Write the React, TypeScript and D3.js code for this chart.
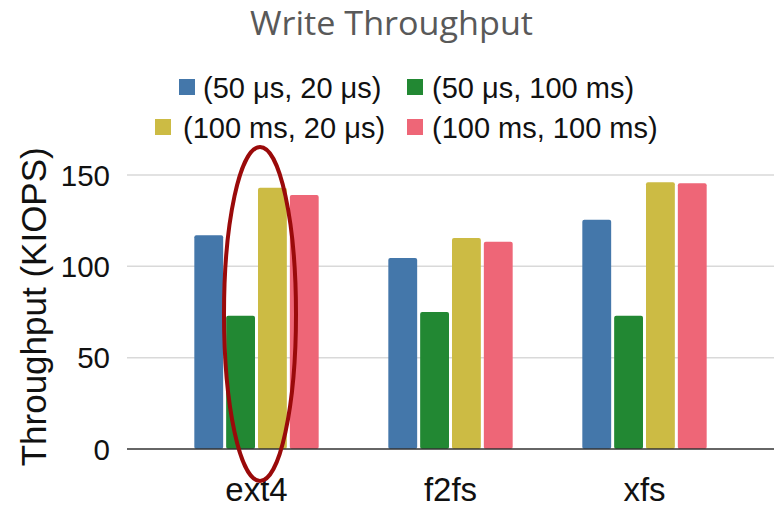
import React from "react";
import * as d3 from "d3";

const categories = ["ext4", "f2fs", "xfs"];
const seriesNames = ["(50 μs, 20 μs)", "(50 μs, 100 ms)", "(100 ms, 20 μs)", "(100 ms, 100 ms)"];
const seriesColors = ["#4477AA", "#228833", "#CCBB44", "#EE6677"];
// Throughput in KIOPS, one array per series, ordered like categories
const s50us20us = [117, 104.5, 125.5];
const s50us100ms = [73, 75, 73];
const s100ms20us = [143, 115.5, 146];
const s100ms100ms = [139, 113.5, 145.5];
const seriesValues = [s50us20us, s50us100ms, s100ms20us, s100ms100ms];
const yTicks = [0, 50, 100, 150];

const W = 776;
const H = 508;
const FONT = "'Liberation Sans', Arial, sans-serif";

export default function App() {
  const x0 = d3
    .scaleBand<string>()
    .domain(categories)
    .range([159.5, 741.5])
    .paddingInner(0.359)
    .paddingOuter(0.1795);
  const x1 = d3
    .scaleBand<number>()
    .domain(d3.range(seriesNames.length))
    .range([0, x0.bandwidth()])
    .paddingInner(0.094);
  const y = d3.scaleLinear().domain([0, 150]).range([449, 175]);

  const gridLeft = 127;
  const gridRight = 774;

  // highlight ring around the ext4 group
  const ringCx = (x0("ext4") ?? 0) + x0.bandwidth() / 2 + 3.5;
  const ringCy = 314;

  const legendRows = [
    { y: 87, items: [{ i: 0, sx: 179, tx: 203 }, { i: 1, sx: 407, tx: 432 }] },
    { y: 127, items: [{ i: 2, sx: 155, tx: 183 }, { i: 3, sx: 407, tx: 432 }] },
  ];

  return (
    <svg
      width={W}
      height={H}
      style={{ position: "absolute", left: 0, top: 0, background: "#fff" }}
      fontFamily={FONT}
    >
      <rect width={W} height={H} fill="#fff" />
      <text
        x={391.5}
        y={34.5}
        textAnchor="middle"
        fontFamily="'Open Sans', sans-serif"
        fontSize={32}
        textLength={283}
        lengthAdjust="spacingAndGlyphs"
        fill="#595959"
      >
        Write Throughput
      </text>

      {legendRows.map((row, ri) =>
        row.items.map((it) => (
          <g key={`${ri}-${it.i}`}>
            <rect x={it.sx} y={row.y - 8} width={16} height={16} fill={seriesColors[it.i]} />
            <text x={it.tx} y={row.y + 10.5} fontSize={29} fill="#111">
              {seriesNames[it.i]}
            </text>
          </g>
        ))
      )}

      {yTicks.map((t) => (
        <g key={t}>
          {t > 0 && (
            <line x1={gridLeft} x2={gridRight} y1={y(t)} y2={y(t)} stroke="#d9d9d9" strokeWidth={1.5} />
          )}
          <text x={110} y={y(t) + 10.5} textAnchor="end" fontSize={29.5} fill="#111">
            {t}
          </text>
        </g>
      ))}

      {categories.map((c, ci) => (
        <g key={c} transform={`translate(${x0(c)},0)`}>
          {seriesValues.map((vals, si) => (
            <rect
              key={si}
              x={x1(si)}
              y={y(vals[ci])}
              width={x1.bandwidth()}
              height={y(0) - y(vals[ci])}
              rx={2}
              fill={seriesColors[si]}
            />
          ))}
        </g>
      ))}

      <line x1={gridLeft} x2={gridRight} y1={y(0)} y2={y(0)} stroke="#333" strokeWidth={1.5} />

      {categories.map((c) => (
        <text
          key={c}
          x={(x0(c) ?? 0) + x0.bandwidth() / 2}
          y={501}
          textAnchor="middle"
          fontSize={33}
          fill="#111"
        >
          {c}
        </text>
      ))}

      <text
        transform={`translate(45.5,${306.8}) rotate(-90)`}
        textAnchor="middle"
        fontSize={35}
        fill="#111"
      >
        Throughput (KIOPS)
      </text>

      <ellipse
        cx={ringCx}
        cy={ringCy}
        rx={36}
        ry={167}
        fill="none"
        stroke="#9a0a0a"
        strokeWidth={4}
      />
    </svg>
  );
}
